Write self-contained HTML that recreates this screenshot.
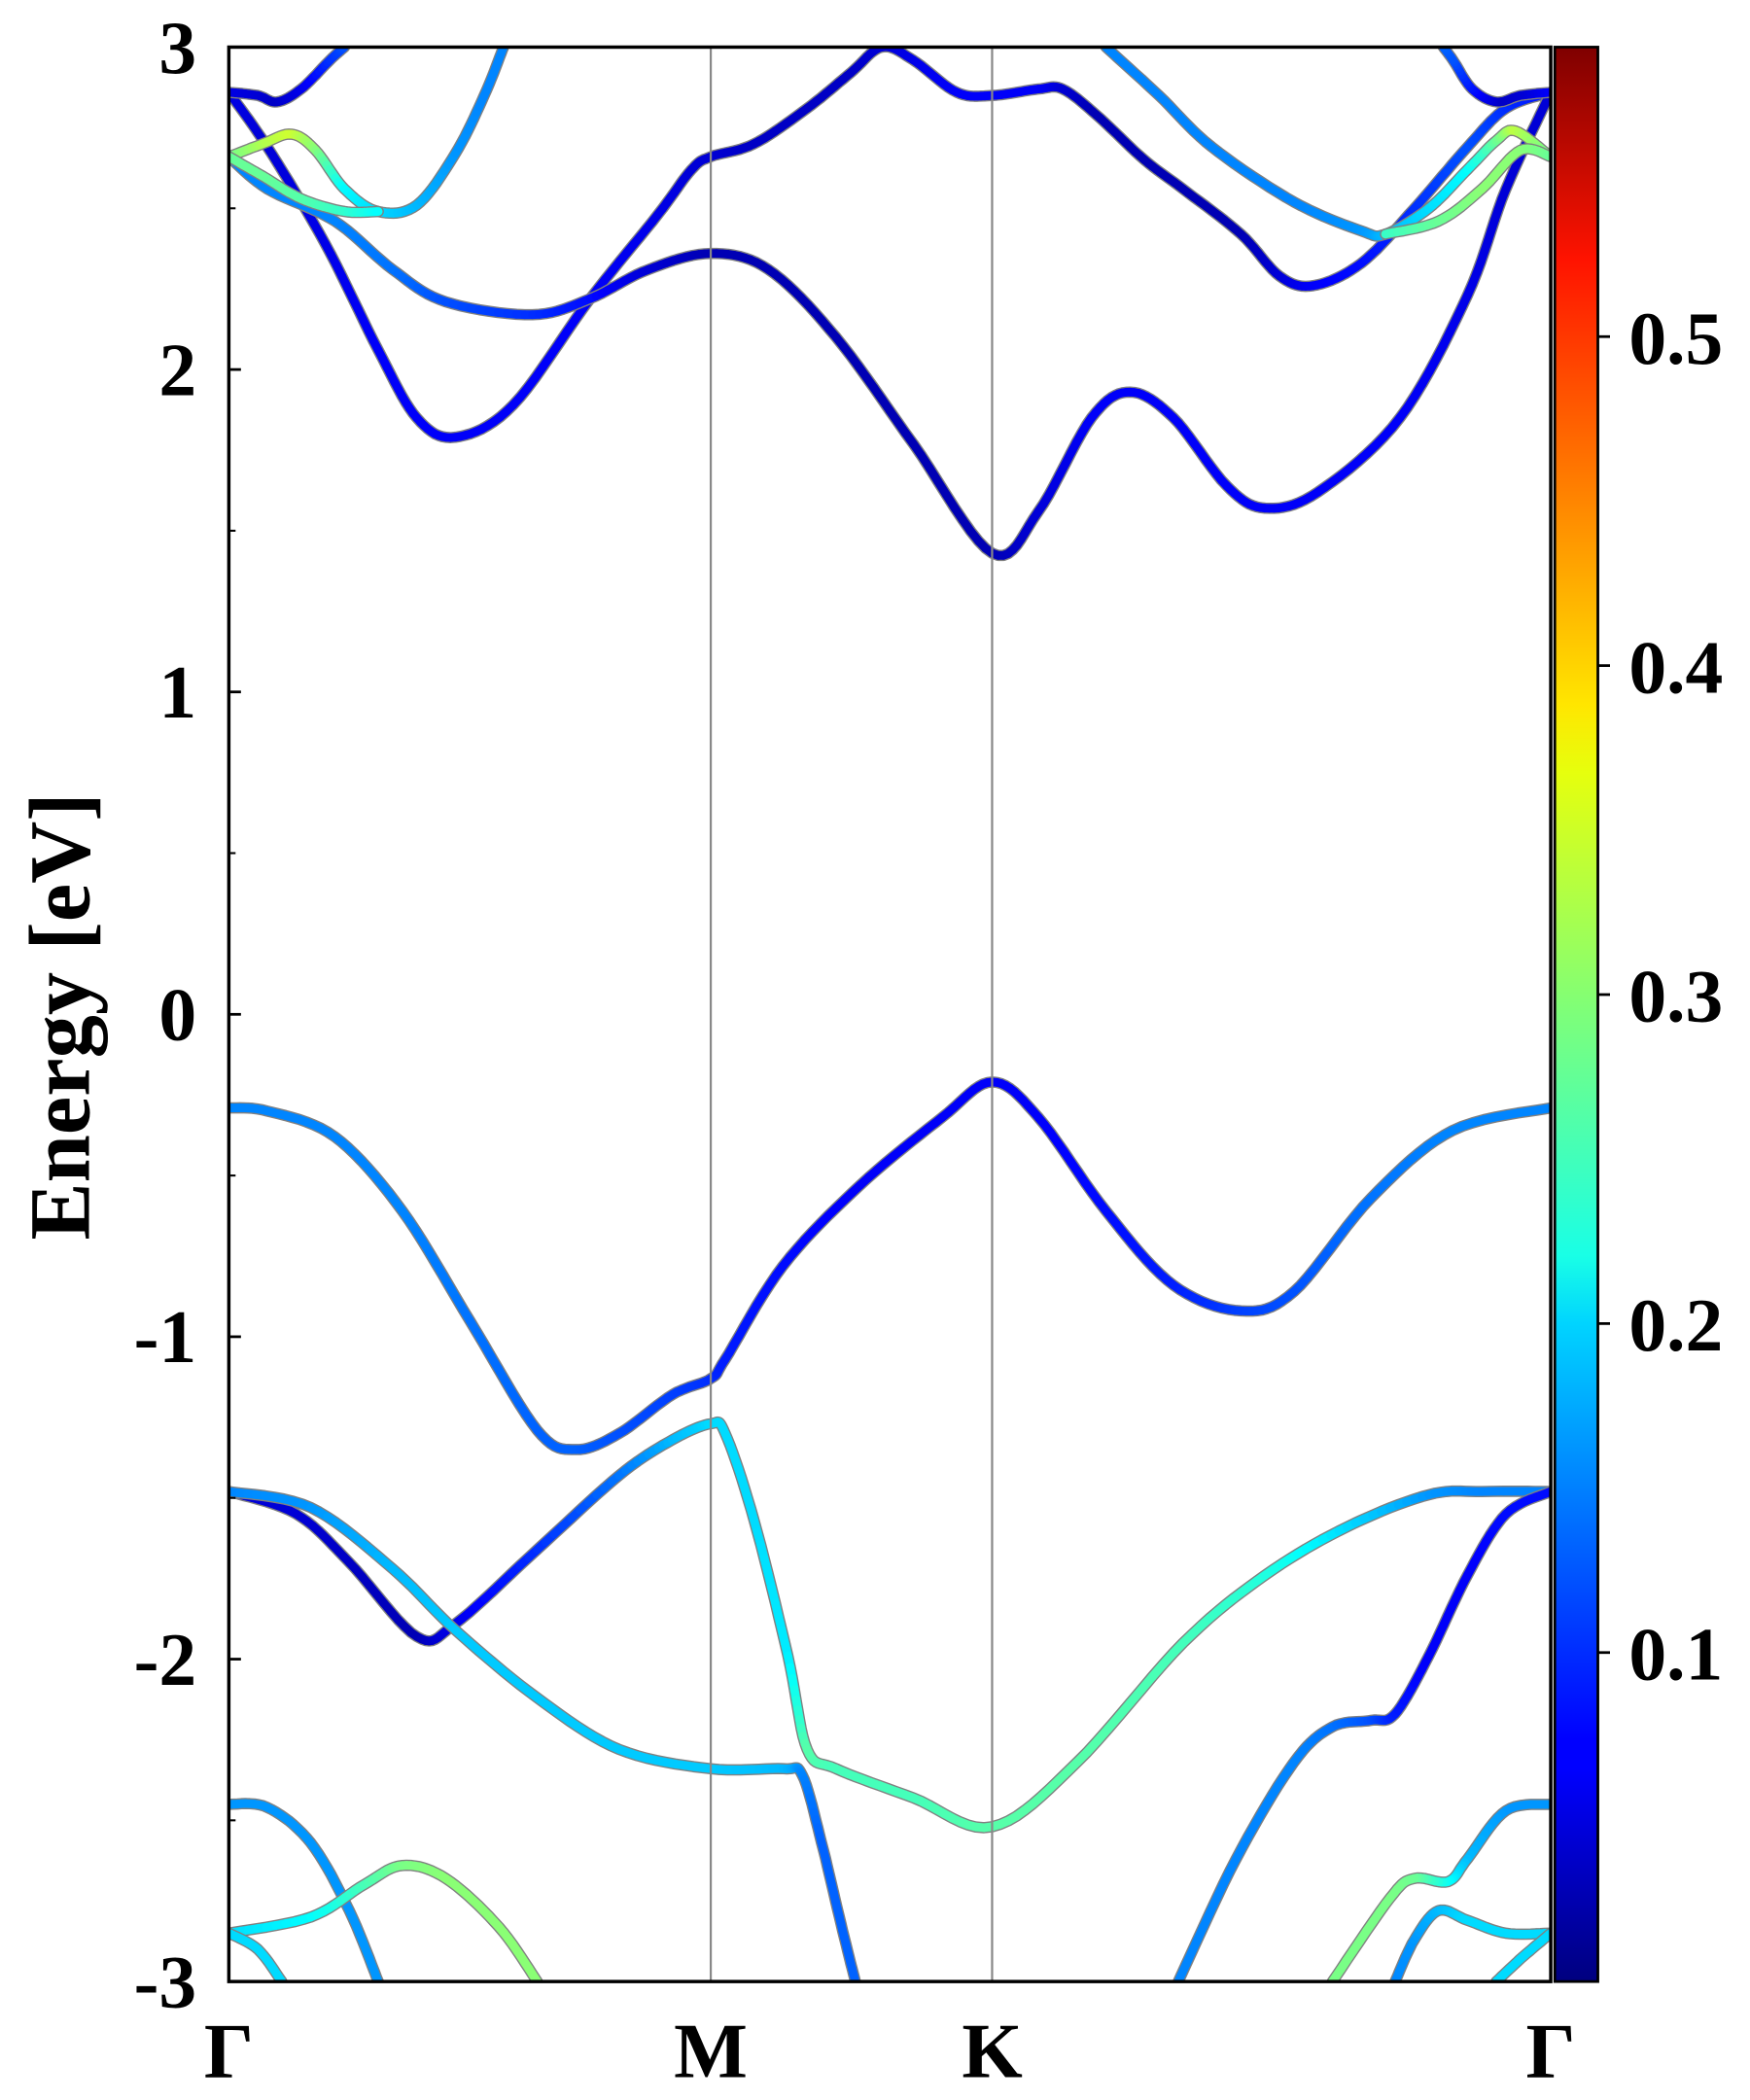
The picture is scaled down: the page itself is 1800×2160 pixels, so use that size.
<!DOCTYPE html>
<html><head><meta charset="utf-8"><style>
html,body{margin:0;padding:0;background:#fff;}
svg{display:block;}
text{font-family:"Liberation Serif",serif;font-weight:bold;fill:#000;}
</style></head><body>
<svg id="chart" width="1800" height="2160" viewBox="0 0 1300 1560" xmlns="http://www.w3.org/2000/svg">
<defs>
<clipPath id="plotclip"><rect x="170" y="35" width="982" height="1437"/></clipPath>
<linearGradient id="jetgrad" x1="0" y1="1" x2="0" y2="0">
<stop offset="0" stop-color="#00007f"/><stop offset="0.11" stop-color="#0000ff"/><stop offset="0.125" stop-color="#0000ff"/>
<stop offset="0.34" stop-color="#00d4ff"/><stop offset="0.375" stop-color="#19ffe6"/><stop offset="0.5" stop-color="#7dff7a"/>
<stop offset="0.625" stop-color="#e6ff0d"/><stop offset="0.66" stop-color="#ffe600"/><stop offset="0.89" stop-color="#ff1300"/><stop offset="1" stop-color="#7f0000"/>
</linearGradient>
</defs>
<g id="bands" clip-path="url(#plotclip)"></g>
<line x1="528" y1="35" x2="528" y2="1472" stroke="#888" stroke-width="1.6"/>
<line x1="737" y1="35" x2="737" y2="1472" stroke="#888" stroke-width="1.6"/>
<rect x="170" y="35" width="982" height="1437" fill="none" stroke="#000" stroke-width="2.5"/>
<g id="yaxis"></g>
<g id="xaxis"></g>
<text transform="translate(66,755) rotate(-90)" text-anchor="middle" font-size="64">Energy [eV]</text>
<rect x="1155" y="35" width="32" height="1437" fill="url(#jetgrad)" stroke="#000" stroke-width="2"/>
<g id="cbar"></g>
</svg>
<script>
// path tick positions (k)
const kTicks=[0,1,1.584,2.743];
const kLabels=["Γ","M","K","Γ"];
const eTicks=[-3,-2,-1,0,1,2,3];
const eLabels=["-3","-2","-1","0","1","2","3"];
const cbTicks=[0.1,0.2,0.3,0.4,0.5];
const cbLabels=["0.1","0.2","0.3","0.4","0.5"];
const wMin=0, wMax=0.588;

const aK=[0,0.08,0.22,0.36,0.50,0.64,0.72,0.81,0.92,1.0,1.03,1.15,1.31,1.48,1.584,1.68,1.82,1.96,2.10,2.21,2.37,2.54,2.743];
const aE=[-0.29,-0.30,-0.38,-0.61,-0.95,-1.29,-1.35,-1.30,-1.18,-1.13,-1.07,-0.78,-0.53,-0.32,-0.21,-0.32,-0.61,-0.84,-0.92,-0.86,-0.57,-0.36,-0.29];
const aW=[0.15,0.15,0.15,0.15,0.14,0.13,0.13,0.12,0.11,0.10,0.09,0.08,0.07,0.07,0.07,0.07,0.08,0.09,0.11,0.12,0.14,0.15,0.15];

const b1K=[0,0.14,0.25,0.39,0.47,0.64,0.81,0.92,1.0,1.03,1.09,1.16,1.20,1.26,1.42,1.584,1.76,1.98,2.15,2.32,2.49,2.60,2.743];
const b1E=[-1.48,-1.55,-1.70,-1.93,-1.89,-1.66,-1.43,-1.32,-1.27,-1.30,-1.57,-1.99,-2.28,-2.34,-2.43,-2.52,-2.32,-1.95,-1.74,-1.59,-1.49,-1.48,-1.48];
const b1W=[0.05,0.05,0.04,0.03,0.06,0.10,0.14,0.18,0.2,0.2,0.2,0.21,0.27,0.26,0.26,0.27,0.27,0.26,0.24,0.2,0.16,0.15,0.15];

const b2K=[0,0.17,0.34,0.47,0.64,0.81,1.0,1.15,1.19,1.23,1.27,1.30];
const b2E=[-1.48,-1.53,-1.72,-1.91,-2.12,-2.28,-2.34,-2.34,-2.36,-2.57,-2.82,-3.0];
const b2W=[0.15,0.16,0.18,0.19,0.19,0.19,0.19,0.18,0.15,0.13,0.13,0.13];

const b3K=[1.97,2.09,2.21,2.29,2.37,2.42,2.49,2.57,2.65,2.743];
const b3E=[-3.0,-2.62,-2.32,-2.21,-2.19,-2.17,-1.99,-1.74,-1.55,-1.48];
const b3W=[0.15,0.15,0.15,0.14,0.12,0.09,0.07,0.07,0.08,0.08];

const l1K=[0,0.08,0.17,0.25,0.31];
const l1E=[-2.45,-2.46,-2.57,-2.78,-3.0];
const l1W=[0.16,0.16,0.16,0.16,0.16];
const l2K=[0,0.17,0.28,0.36,0.45,0.56,0.64];
const l2E=[-2.85,-2.80,-2.70,-2.64,-2.68,-2.83,-3.0];
const l2W=[0.2,0.22,0.26,0.29,0.3,0.3,0.3];
const l3K=[0,0.06,0.11];
const l3E=[-2.85,-2.90,-3.0];
const l3W=[0.2,0.2,0.2];
const r1K=[2.743,2.65,2.57,2.53,2.46,2.41,2.29];
const r1E=[-2.45,-2.47,-2.62,-2.69,-2.68,-2.74,-3.0];
const r1W=[0.16,0.16,0.18,0.22,0.28,0.29,0.29];
const r2K=[2.42,2.46,2.51,2.57,2.65,2.743];
const r2E=[-3.0,-2.87,-2.78,-2.81,-2.85,-2.85];
const r2W=[0.15,0.16,0.18,0.2,0.2,0.2];
const r3K=[2.63,2.68,2.743];
const r3E=[-3.0,-2.93,-2.85];
const r3W=[0.2,0.2,0.2];

const c1lK=[0,0.06,0.10,0.15,0.21,0.24];
const c1lE=[2.86,2.85,2.83,2.87,2.96,3.0];
const c1lW=[0.06,0.05,0.04,0.06,0.1,0.12];
const c1rK=[2.743,2.68,2.63,2.58,2.54,2.52];
const c1rE=[2.86,2.85,2.83,2.87,2.96,3.0];
const c1rW=[0.08,0.05,0.04,0.08,0.12,0.13];

const dK=[0,0.08,0.20,0.31,0.39,0.47,0.59,0.75,0.89,0.96,1.0,1.09,1.20,1.29,1.355,1.42,1.51,1.584,1.68,1.73,1.80,1.90,1.98,2.10,2.18,2.25,2.35,2.46,2.57,2.65,2.743];
const dE=[2.86,2.69,2.39,2.06,1.85,1.79,1.89,2.22,2.48,2.62,2.66,2.70,2.81,2.92,3.0,2.96,2.86,2.85,2.87,2.87,2.79,2.65,2.56,2.42,2.29,2.26,2.33,2.50,2.69,2.81,2.86];
const dW=[0.06,0.05,0.06,0.07,0.07,0.07,0.07,0.07,0.06,0.05,0.05,0.04,0.04,0.04,0.05,0.06,0.07,0.07,0.07,0.05,0.03,0.03,0.03,0.03,0.05,0.07,0.08,0.1,0.12,0.1,0.08];

const eK=[0,0.08,0.22,0.34,0.45,0.63,0.75,0.87,1.0,1.12,1.26,1.42,1.584,1.68,1.79,1.87,1.96,2.07,2.15,2.26,2.43,2.57,2.65,2.743];
const eE=[2.66,2.56,2.46,2.31,2.21,2.17,2.22,2.31,2.36,2.31,2.10,1.77,1.43,1.56,1.85,1.93,1.85,1.64,1.57,1.62,1.85,2.23,2.56,2.86];
const eW=[0.15,0.15,0.15,0.14,0.12,0.1,0.08,0.05,0.03,0.03,0.03,0.03,0.03,0.05,0.07,0.07,0.07,0.07,0.07,0.07,0.07,0.06,0.05,0.05];

const flK=[0,0.07,0.13,0.18,0.24,0.31,0.39,0.47,0.53,0.57];
const flE=[2.66,2.70,2.73,2.68,2.56,2.49,2.51,2.67,2.85,3.0];
const flW=[0.28,0.32,0.34,0.3,0.22,0.2,0.18,0.16,0.15,0.15];
const glK=[0,0.07,0.15,0.24,0.31];
const glE=[2.66,2.60,2.53,2.49,2.49];
const glW=[0.28,0.28,0.27,0.25,0.22];
const frK=[1.82,1.93,2.04,2.21,2.35,2.40,2.49,2.57,2.63,2.67,2.743];
const frE=[3.0,2.85,2.69,2.52,2.43,2.42,2.50,2.62,2.71,2.74,2.66];
const frW=[0.15,0.15,0.15,0.15,0.16,0.18,0.2,0.22,0.28,0.33,0.28];
const grK=[2.40,2.51,2.60,2.68,2.743];
const grE=[2.42,2.46,2.56,2.68,2.66];
const grW=[0.25,0.28,0.3,0.3,0.28];

const bands=[
 ["band-valence-1",aK,aE,aW],["band-valence-2",b1K,b1E,b1W],["band-valence-3",b2K,b2E,b2W],["band-valence-4",b3K,b3E,b3W],
 ["band-low-1",l1K,l1E,l1W],["band-low-2",l2K,l2E,l2W],["band-low-3",l3K,l3E,l3W],
 ["band-low-4",r1K,r1E,r1W],["band-low-5",r2K,r2E,r2W],["band-low-6",r3K,r3E,r3W],
 ["band-cond-1",dK,dE,dW],["band-cond-2",eK,eE,eW],["band-cond-3",c1lK,c1lE,c1lW],["band-cond-4",c1rK,c1rE,c1rW],
 ["band-cond-5",flK,flE,flW],["band-cond-6",glK,glE,glW],["band-cond-7",frK,frE,frW],["band-cond-8",grK,grE,grW]
];

const X0=170,XS=358,Y0=753.5,YS=239.5;
const xs=k=>X0+k*XS;
const ys=e=>Y0-e*YS;
const NS="http://www.w3.org/2000/svg";
function jet(v){
 let t=(v-wMin)/(wMax-wMin);t=Math.max(0,Math.min(1,t));
 const f=x=>Math.max(0,Math.min(1,x));
 const r=f(1.5-Math.abs(4*t-3)),g=f(1.5-Math.abs(4*t-2)),b=f(1.5-Math.abs(4*t-1));
 return `rgb(${Math.round(r*255)},${Math.round(g*255)},${Math.round(b*255)})`;
}
function mk(tag,attrs,parent){const el=document.createElementNS(NS,tag);for(const a in attrs)el.setAttribute(a,attrs[a]);parent.appendChild(el);return el;}
const g=document.getElementById('bands');
bands.forEach(([name,K,E,W])=>{
 const P=K.map((k,i)=>[xs(k),ys(E[i]),W[i]]);
 const pts=[];
 for(let i=0;i<P.length-1;i++){
  const p0=P[Math.max(0,i-1)],p1=P[i],p2=P[i+1],p3=P[Math.min(P.length-1,i+2)];
  for(let s=0;s<10;s++){
   const t=s/10,t2=t*t,t3=t2*t;
   const cr=j=>0.5*((2*p1[j])+(-p0[j]+p2[j])*t+(2*p0[j]-5*p1[j]+4*p2[j]-p3[j])*t2+(-p0[j]+3*p1[j]-3*p2[j]+p3[j])*t3);
   pts.push([cr(0),cr(1),p1[2]+(p2[2]-p1[2])*t]);
  }
 }
 pts.push(P[P.length-1]);
 const grp=mk('g',{},g);
 
 
 mk('polyline',{points:pts.map(p=>p[0].toFixed(1)+','+p[1].toFixed(1)).join(' '),fill:'none',stroke:'#808080','stroke-width':8.4,'stroke-linejoin':'round','stroke-linecap':'round'},grp);
 for(let i=0;i<pts.length-1;i++){
  mk('line',{x1:pts[i][0].toFixed(1),y1:pts[i][1].toFixed(1),x2:pts[i+1][0].toFixed(1),y2:pts[i+1][1].toFixed(1),stroke:jet((pts[i][2]+pts[i+1][2])/2),'stroke-width':6.4,'stroke-linecap':'round'},grp);
 }
});
const ya=document.getElementById('yaxis');
eTicks.forEach((e,i)=>{
 const l=mk('line',{x1:170,y1:ys(e),x2:179,y2:ys(e),stroke:'#000','stroke-width':2},ya);
 
 
 const t=mk('text',{x:146,y:ys(e)+19,'text-anchor':'end','font-size':56},ya);
 t.textContent=eLabels[i];
 
 
 if(i<eTicks.length-1){
  const m=mk('line',{x1:170,y1:ys(e+0.5),x2:175,y2:ys(e+0.5),stroke:'#000','stroke-width':1.5},ya);
  
  
 }
});
const xa=document.getElementById('xaxis');
kTicks.forEach((k,i)=>{
 const t=mk('text',{x:xs(k),y:1543,'text-anchor':'middle','font-size':58},xa);
 t.textContent=kLabels[i];
 
 
});
const cb=document.getElementById('cbar');
const cy=v=>1472-(v-wMin)/(wMax-wMin)*1437;
cbTicks.forEach((v,i)=>{
 const l=mk('line',{x1:1187,y1:cy(v),x2:1196,y2:cy(v),stroke:'#000','stroke-width':2},cb);
 
 
 const t=mk('text',{x:1210,y:cy(v)+20,'font-size':56},cb);
 t.textContent=cbLabels[i];
 
 
});
</script>
</body></html>
